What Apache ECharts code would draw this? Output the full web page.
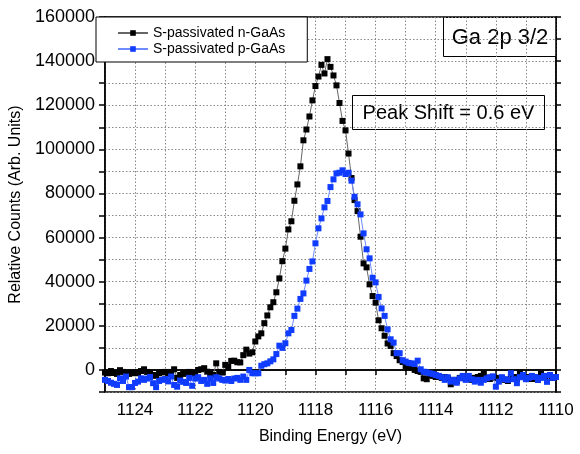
<!DOCTYPE html>
<html>
<head>
<meta charset="utf-8">
<script src="https://cdn.jsdelivr.net/npm/echarts@6/dist/echarts.min.js"></script>
<style>
html,body{margin:0;padding:0;background:#fff;}
#chart{width:580px;height:454px;}
</style>
</head>
<body>
<div id="chart"></div>
<script>
const seriesNames = ['S-passivated n-GaAs', 'S-passivated p-GaAs'];
const energy = [
 1125.0,1124.9,1124.8,1124.7,1124.6,1124.5,1124.4,1124.3,1124.2,1124.1,
 1124.0,1123.9,1123.8,1123.7,1123.6,1123.5,1123.4,1123.3,1123.2,1123.1,
 1123.0,1122.9,1122.8,1122.7,1122.6,1122.5,1122.4,1122.3,1122.2,1122.1,
 1122.0,1121.9,1121.8,1121.7,1121.6,1121.5,1121.4,1121.3,1121.2,1121.1,
 1121.0,1120.9,1120.8,1120.7,1120.6,1120.5,1120.4,1120.3,1120.2,1120.1,
 1120.0,1119.9,1119.8,1119.7,1119.6,1119.5,1119.4,1119.3,1119.2,1119.1,
 1119.0,1118.9,1118.8,1118.7,1118.6,1118.5,1118.4,1118.3,1118.2,1118.1,
 1118.0,1117.9,1117.8,1117.7,1117.6,1117.5,1117.4,1117.3,1117.2,1117.1,
 1117.0,1116.9,1116.8,1116.7,1116.6,1116.5,1116.4,1116.3,1116.2,1116.1,
 1116.0,1115.9,1115.8,1115.7,1115.6,1115.5,1115.4,1115.3,1115.2,1115.1,
 1115.0,1114.9,1114.8,1114.7,1114.6,1114.5,1114.4,1114.3,1114.2,1114.1,
 1114.0,1113.9,1113.8,1113.7,1113.6,1113.5,1113.4,1113.3,1113.2,1113.1,
 1113.0,1112.9,1112.8,1112.7,1112.6,1112.5,1112.4,1112.3,1112.2,1112.1,
 1112.0,1111.9,1111.8,1111.7,1111.6,1111.5,1111.4,1111.3,1111.2,1111.1,
 1111.0,1110.9,1110.8,1110.7,1110.6,1110.5,1110.4,1110.3,1110.2,1110.1,
 1110.0
];
const nGaAs = [
 -1200,-1500,-500,-1400,-1800,-100,-900,-1400,-1800,-1200,
 -1500,-1400,-500,300,-900,-1500,-2300,-2700,-1500,-1100,
 -900,-1800,-900,300,-3600,-2300,-1800,-1400,-900,-1700,
 -1400,0,300,800,-800,-1800,-2300,3000,-900,-1200,
 2300,1500,4100,4200,3500,3400,6700,9200,7400,8000,
 12900,15200,16600,21200,24700,28400,30700,35200,41500,49300,
 55000,63700,67400,76700,84100,92300,104100,109000,114900,122200,
 128700,133000,138300,134400,140900,137400,133500,129000,121000,112900,
 108600,98100,87000,77000,72000,60400,48300,46500,38800,33500,
 30500,22500,18900,15500,12000,10900,7600,6300,4400,3600,
 1800,1500,900,0,-500,-900,-3800,-4200,-2300,-2700,
 -3200,-2900,-3600,-3200,-3800,-6500,-4500,-5000,-3600,-3200,
 -4100,-3600,-4500,-3600,-3200,-2700,-1500,-3600,-4100,-3200,
 -3600,-4300,-3600,-4500,-5000,-3600,-3200,-4100,-1200,-2700,
 -3600,-3200,-4100,-3600,-4500,-1800,-3200,-4100,-2700,-3600,
 -3200
];
const pGaAs = [
 -4500,-5000,-5800,-6300,-6800,-3800,-5000,-3000,-7800,-7800,
 -5900,-5300,-3800,-4500,-3900,-3200,-6000,-7800,-5000,-4500,
 -4100,-5200,-3000,-6800,-7600,-4800,-5400,-5900,-3600,-7200,
 -3900,-3300,-5000,-4500,-6300,-3800,-5900,-3300,-3900,-4500,
 -4800,-4100,-5000,-3900,-3600,-4500,-3000,-4500,0,-1500,
 -1500,-1500,1900,2600,3000,3900,4800,7200,11000,10000,
 12100,16600,18100,24500,27800,32200,34700,40500,45800,49200,
 57400,64200,68700,73700,76600,82900,86400,89100,89400,90500,
 88800,89400,85800,78500,75100,70500,61900,54700,50600,41800,
 39700,33100,27900,24500,18400,13900,12400,7600,7600,4400,
 3800,3200,3000,2700,4200,300,-800,-1100,-1500,-1800,
 -2300,-2700,-3300,-4500,-3300,-5300,-4500,-5800,-3800,-2700,
 -4500,-2700,-4200,-5300,-4500,-5800,-4500,-3800,-3300,-2900,
 -7600,-5300,-3300,-4200,-4500,-1500,-4200,-6000,-3300,-2300,
 -4200,-3600,-2700,-3200,-4500,-3600,-2700,-5400,-2300,-3600,
 -3200
];
const xTitle = 'Binding Energy (eV)';
const yTitle = 'Relative Counts (Arb. Units)';
const peakLabel = 'Ga 2p 3/2';
const shiftLabel = 'Peak Shift = 0.6 eV';

const FONT = '"Liberation Sans", Arial, sans-serif';
const chart = echarts.init(document.getElementById('chart'), null, {renderer: 'canvas'});
const pairs = (ys) => energy.map((e, i) => [e, ys[i]]);

const option = {
  backgroundColor: '#fff',
  animation: false,
  textStyle: {fontFamily: FONT},
  grid: {left: 96, right: 24, top: 17, bottom: 62, show: true, borderColor: '#000', borderWidth: 1.5, containLabel: false},
  legend: {
    left: 96, top: 17, orient: 'vertical',
    backgroundColor: '#fff', borderColor: '#000', borderWidth: 1,
    padding: [9, 22, 6, 21], itemGap: 2, itemWidth: 30, itemHeight: 7,
    textStyle: {fontFamily: FONT, fontSize: 14, color: '#000'},
    data: seriesNames
  },
  xAxis: [{
    type: 'value', inverse: true, min: 1110, max: 1125, interval: 1,
    name: xTitle, nameLocation: 'middle', nameGap: 37,
    nameTextStyle: {fontFamily: FONT, fontSize: 16, color: '#000'},
    axisLine: {show: true, lineStyle: {color: '#000', width: 1.5}},
    axisTick: {show: true, inside: false, length: 5, lineStyle: {color: '#000', width: 1.5}},
    axisLabel: {fontFamily: FONT, fontSize: 17, color: '#000', margin: 10,
      formatter: v => (Math.round(v) % 2 === 0 ? String(v) : '')},
    splitLine: {show: true, lineStyle: {color: '#888', type: [1.5, 2], width: 1}}
  }, {
    type: 'value', inverse: true, min: 1110, max: 1125, interval: 2, position: 'top',
    axisLine: {show: true, lineStyle: {color: '#000', width: 1.5}},
    axisTick: {show: true, inside: true, length: 5, lineStyle: {color: '#000', width: 1.5}},
    axisLabel: {show: false}, splitLine: {show: false}
  }],
  yAxis: [{
    type: 'value', min: -10000, max: 160000, interval: 10000,
    name: yTitle, nameLocation: 'middle', nameGap: 67, nameRotate: 90,
    nameTextStyle: {fontFamily: FONT, fontSize: 16, color: '#000'},
    axisLine: {show: true, lineStyle: {color: '#000', width: 1.5}},
    axisTick: {show: true, inside: false, length: 6, lineStyle: {color: '#000', width: 1.5}},
    axisLabel: {fontFamily: FONT, fontSize: 18, color: '#000', margin: 10,
      formatter: v => (v % 20000 === 0 ? String(v) : '')},
    splitLine: {show: true, lineStyle: {color: '#888', type: [1.5, 2], width: 1}}
  }, {
    type: 'value', min: -10000, max: 160000, interval: 10000, position: 'right',
    axisLine: {show: true, lineStyle: {color: '#000', width: 1.5}},
    axisTick: {show: true, inside: false, length: 5, lineStyle: {color: '#000', width: 1.5}},
    axisLabel: {show: false}, splitLine: {show: false}
  }],
  series: [{
    name: seriesNames[0], type: 'line', data: pairs(nGaAs),
    symbol: 'rect', symbolSize: 6, showSymbol: true,
    itemStyle: {color: '#000'},
    lineStyle: {color: '#666', width: 1},
    z: 2
  }, {
    name: seriesNames[1], type: 'line', data: pairs(pGaAs),
    symbol: 'rect', symbolSize: 6, showSymbol: true,
    itemStyle: {color: '#0f3cff'},
    lineStyle: {color: '#6f8cff', width: 1},
    z: 3
  }],
  graphic: [{
    type: 'group', left: 443, top: 17, z: 100,
    children: [
      {type: 'rect', shape: {x: 0, y: 0, width: 113, height: 39}, style: {fill: '#fff', stroke: '#000', lineWidth: 1}},
      {type: 'text', x: 56.5, y: 20, style: {text: peakLabel, font: '22px ' + FONT, fill: '#000', textAlign: 'center', textVerticalAlign: 'middle'}}
    ]
  }, {
    type: 'group', left: 352, top: 95, z: 100,
    children: [
      {type: 'rect', shape: {x: 0, y: 0, width: 192, height: 34}, style: {fill: '#fff', stroke: '#000', lineWidth: 1}},
      {type: 'text', x: 96, y: 17.5, style: {text: shiftLabel, font: '20px ' + FONT, fill: '#000', textAlign: 'center', textVerticalAlign: 'middle'}}
    ]
  }]
};
chart.setOption(option);
</script>
</body>
</html>
